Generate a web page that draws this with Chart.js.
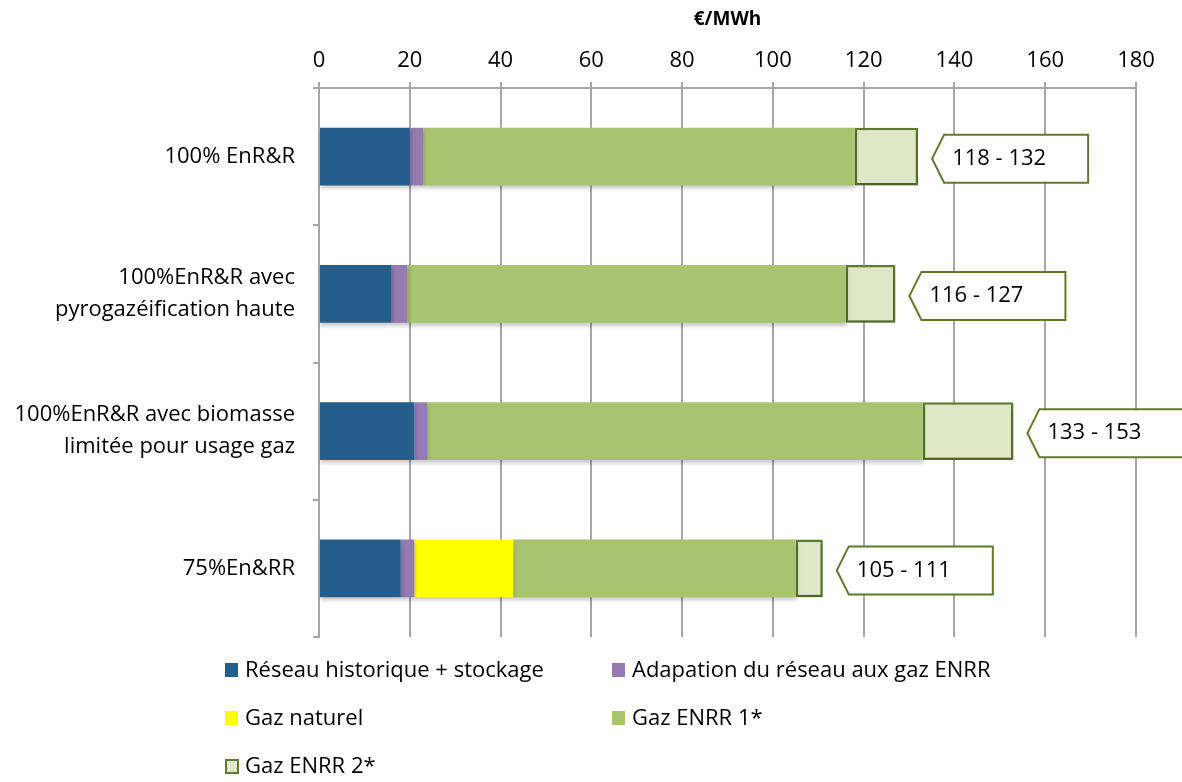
<!DOCTYPE html>
<html>
<head>
<meta charset="utf-8">
<script src="https://cdn.jsdelivr.net/npm/chart.js@4.4.0/dist/chart.umd.min.js"></script>
<style>
  body { margin: 0; background: #fff; }
  #wrap { width: 1182px; height: 782px; }
</style>
</head>
<body>
<div id="wrap"><canvas id="mycanvas" width="1182" height="782"></canvas></div>
<script>
// scenarios (y axis)
var categories = [
	"100% EnR&R",
	["100%EnR&R avec", "pyrogazéification haute"],
	["100%EnR&R avec biomasse", "limitée pour usage gaz"],
	"75%En&RR"
];
var xTicks = [0, 20, 40, 60, 80, 100, 120, 140, 160, 180];

// cost parts, €/MWh
var reseauHistorique = [20, 16, 21, 18];
var adaptationReseau = [3, 3.5, 2.8, 3];
var gazNaturel = [0, 0, 0, 21.8];
var gazEnrr1 = [95, 96.5, 109.2, 62.2];
var gazEnrr2 = [14, 11, 20, 6];
var fourchettes = ["118 - 132", "116 - 127", "133 - 153", "105 - 111"];

var police = "'Open Sans', 'DejaVu Sans', sans-serif";
var vertFonce = '#5f7a2e';

var chartdata = {
	labels: categories,
	datasets: [
		{ label: "Réseau historique + stockage", data: reseauHistorique, backgroundColor: '#255e8b' },
		{ label: "Adapation du réseau aux gaz ENRR", data: adaptationReseau, backgroundColor: '#957bb1' },
		{ label: "Gaz naturel", data: gazNaturel, backgroundColor: '#ffff00' },
		{ label: "Gaz ENRR 1*", data: gazEnrr1, backgroundColor: '#a9c46e' },
		{ label: "Gaz ENRR 2*", data: gazEnrr2, backgroundColor: '#dfe7c9', borderColor: vertFonce, borderWidth: 2.5, borderSkipped: false }
	]
};

// petite ombre sous les barres
var ombre = {
	id: 'ombre',
	beforeDatasetsDraw: function(chart) {
		var ctx = chart.ctx;
		ctx.save();
		ctx.shadowColor = 'rgba(0,0,0,0.22)';
		ctx.shadowBlur = 4;
		ctx.shadowOffsetX = 1;
		ctx.shadowOffsetY = 3;
	},
	afterDatasetsDraw: function(chart) {
		chart.ctx.restore();
	}
};

// bulles "118 - 132" a droite des barres
var bulles = {
	id: 'bulles',
	afterDatasetsDraw: function(chart) {
		var ctx = chart.ctx;
		var xs = chart.scales.x, ys = chart.scales.y;
		ctx.save();
		ctx.shadowColor = 'transparent';
		for (var i = 0; i < categories.length; i++) {
			var total = 0;
			chart.data.datasets.forEach(function(d) { total += d.data[i]; });
			var x0 = xs.getPixelForValue(total) + 14;
			var y = ys.getPixelForValue(i) + 2;
			var h = 48, w = 156, pointe = 12;
			ctx.beginPath();
			ctx.moveTo(x0, y);
			ctx.lineTo(x0 + pointe, y - h / 2);
			ctx.lineTo(x0 + w, y - h / 2);
			ctx.lineTo(x0 + w, y + h / 2);
			ctx.lineTo(x0 + pointe, y + h / 2);
			ctx.closePath();
			ctx.fillStyle = '#fff';
			ctx.fill();
			ctx.lineWidth = 2;
			ctx.strokeStyle = vertFonce;
			ctx.stroke();
			ctx.fillStyle = '#000';
			ctx.font = "22px " + police;
			ctx.textBaseline = 'middle';
			ctx.textAlign = 'left';
			ctx.fillText(fourchettes[i], x0 + 20, y);
		}
		ctx.restore();
	}
};

// legende sur deux colonnes
var legende = {
	id: 'legende',
	afterDraw: function(chart) {
		var ctx = chart.ctx;
		var colX = [225, 612];
		ctx.save();
		ctx.font = "22px " + police;
		ctx.textBaseline = 'middle';
		chart.data.datasets.forEach(function(d, i) {
			var x = colX[i % 2];
			var y = 670 + Math.floor(i / 2) * 48;
			ctx.fillStyle = d.backgroundColor;
			ctx.fillRect(x, y - 7, 13, 14);
			if (d.borderWidth) {
				ctx.lineWidth = 2;
				ctx.strokeStyle = d.borderColor;
				ctx.strokeRect(x + 1, y - 6, 12, 13);
			}
			ctx.fillStyle = '#000';
			ctx.fillText(d.label, x + 20, y + 1);
		});
		ctx.restore();
	}
};

var ctx = document.getElementById('mycanvas');

var barGraph = new Chart(ctx, {
	type: 'bar',
	data: chartdata,
	plugins: [ombre, bulles, legende],
	options: {
		indexAxis: 'y',
		responsive: false,
		animation: false,
		layout: { padding: { left: 0, right: 46, top: 0, bottom: 145 } },
		plugins: {
			legend: { display: false },
			tooltip: { enabled: false }
		},
		datasets: { bar: { categoryPercentage: 1, barPercentage: 0.42 } },
		scales: {
			x: {
				position: 'top',
				stacked: true,
				min: 0,
				max: 180,
				afterBuildTicks: function(scale) {
					scale.ticks = xTicks.map(function(v) { return { value: v }; });
				},
				afterFit: function(scale) { scale.height = 88; },
				title: {
					display: true,
					text: '€/MWh',
					color: '#000',
					font: { family: police, size: 19, weight: 'bold' },
					padding: { top: 8, bottom: 0 }
				},
				ticks: { color: '#000', font: { family: police, size: 22 }, padding: 8 },
				grid: { color: '#a6a6a6', lineWidth: 2, tickLength: 6 },
				border: { color: '#a6a6a6', width: 2 }
			},
			y: {
				stacked: true,
				afterFit: function(scale) { scale.width = 319; },
				ticks: { color: '#000', font: { family: police, size: 22, lineHeight: 1.45 }, padding: 18 },
				grid: { drawOnChartArea: false, color: '#a6a6a6', lineWidth: 2, tickLength: 6 },
				border: { color: '#a6a6a6', width: 2 }
			}
		}
	}
});
</script>
</body>
</html>
